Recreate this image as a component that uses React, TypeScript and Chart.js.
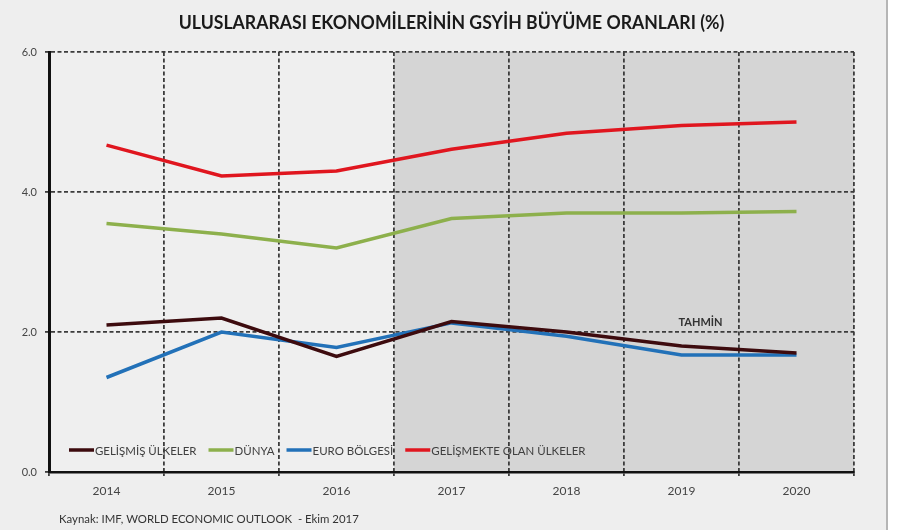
import React, { useEffect, useRef } from "react";
import { Chart, registerables } from "chart.js";

Chart.register(...registerables);

const years = ["2014", "2015", "2016", "2017", "2018", "2019", "2020"];
const gelismis = [2.1, 2.2, 1.65, 2.15, 2.0, 1.8, 1.7];
const dunya = [3.55, 3.4, 3.2, 3.62, 3.7, 3.7, 3.72];
const euro = [1.35, 2.0, 1.78, 2.13, 1.94, 1.67, 1.67];
const gelismekte = [4.67, 4.23, 4.3, 4.61, 4.84, 4.95, 5.0];
const seriesNames = ["GELİŞMİŞ ÜLKELER", "DÜNYA", "EURO BÖLGESİ", "GELİŞMEKTE OLAN ÜLKELER"];
const seriesColors = ["#3d0b0e", "#8db04c", "#2271b8", "#e0161f"];
const titleText = "ULUSLARARASI EKONOMİLERİNİN GSYİH BÜYÜME ORANLARI (%)";
const sourceText = "Kaynak: IMF, WORLD ECONOMIC OUTLOOK  - Ekim 2017";
const forecastLabel = "TAHMİN";
const forecastStart = 3;

const FONT = "Lato, 'Open Sans', sans-serif";

function narrowText(ctx: any, text: string, x: number, y: number, sx: number) {
  ctx.save();
  ctx.translate(x, y);
  ctx.scale(sx, 1);
  ctx.fillText(text, 0, 0);
  ctx.restore();
}

const decorPlugin = {
  id: "decor",
  beforeDraw(chart: any) {
    const { ctx, chartArea } = chart;
    const x = chart.scales.x;
    ctx.save();
    ctx.fillStyle = "#efefef";
    ctx.fillRect(chartArea.left, chartArea.top, chartArea.right - chartArea.left, chartArea.bottom - chartArea.top);
    const half = (x.getPixelForValue(1) - x.getPixelForValue(0)) / 2;
    const sx = x.getPixelForValue(forecastStart) - half;
    ctx.fillStyle = "#d5d5d5";
    ctx.fillRect(sx, chartArea.top, chartArea.right - sx, chartArea.bottom - chartArea.top);
    ctx.restore();
  },
  afterDraw(chart: any) {
    const { ctx, chartArea } = chart;
    const x = chart.scales.x;
    const y = chart.scales.y;
    ctx.save();
    // title
    ctx.fillStyle = "#1a1a1a";
    ctx.font = `bold 18px ${FONT}`;
    ctx.textBaseline = "middle";
    const tsc = 0.98;
    const tw = ctx.measureText(titleText).width * tsc;
    ctx.textAlign = "left";
    narrowText(ctx, titleText, (chartArea.left + chartArea.right) / 2 - tw / 2, 23, tsc);
    // forecast label
    ctx.fillStyle = "#333";
    ctx.font = `bold 11px ${FONT}`;
    ctx.textAlign = "center";
    ctx.fillText(forecastLabel, x.getPixelForValue(5) + 19, y.getPixelForValue(2) - 10);
    // source
    ctx.textAlign = "left";
    ctx.fillStyle = "#333";
    ctx.font = `11.4px ${FONT}`;
    ctx.fillText(sourceText, 59, 519);
    // legend
    ctx.font = `12px ${FONT}`;
    const sc = 0.955;
    let lx = chartArea.left + 20;
    const ly = 450;
    chart.data.datasets.forEach((ds: any) => {
      ctx.strokeStyle = ds.borderColor;
      ctx.lineWidth = 3.5;
      ctx.beginPath();
      ctx.moveTo(lx, ly);
      ctx.lineTo(lx + 25, ly);
      ctx.stroke();
      ctx.fillStyle = "#404040";
      narrowText(ctx, ds.label, lx + 26, ly + 1, sc);
      lx += 26 + ctx.measureText(ds.label).width * sc + 12;
    });
    ctx.restore();
  },
};

export default function App() {
  const ref = useRef<HTMLCanvasElement | null>(null);
  useEffect(() => {
    if (!ref.current) return;
    const dataArrays = [gelismis, dunya, euro, gelismekte];
    const chart = new Chart(ref.current, {
      type: "line",
      data: {
        labels: years,
        datasets: dataArrays.map((d, i) => ({
          label: seriesNames[i],
          data: d,
          borderColor: seriesColors[i],
          backgroundColor: seriesColors[i],
          borderWidth: 3.5,
          pointRadius: 0,
          tension: 0,
          fill: false,
        })),
      },
      options: {
        animation: false,
        responsive: false,
        maintainAspectRatio: false,
        layout: { padding: { top: 52, right: 32, left: 0, bottom: 0 } },
        plugins: {
          legend: { display: false },
          title: { display: false },
          tooltip: { enabled: false },
        },
        scales: {
          x: {
            offset: true,
            grid: {
              offset: true,
              color: "#3c3c3c",
              lineWidth: 1.8,
              tickLength: 4,
            },
            border: { display: true, color: "#111", width: 2.5, dash: [4, 2.5] },
            ticks: { color: "#444", font: { family: FONT, size: 12 }, padding: 8 },
            afterFit(scale: any) {
              scale.height = 58;
            },
          },
          y: {
            min: 0,
            max: 6,
            ticks: {
              stepSize: 2,
              color: "#444",
              font: { family: FONT, size: 11 },
              padding: 8,
              callback: (v: any) => Number(v).toFixed(1),
            },
            grid: { color: "#3c3c3c", lineWidth: 1.8, tickLength: 4 },
            border: { display: true, color: "#111", width: 3, dash: [4, 2.5] },
            afterFit(scale: any) {
              scale.width = 49;
            },
          },
        },
      },
      plugins: [decorPlugin],
    } as any);
    return () => chart.destroy();
  }, []);
  return (
    <div style={{ position: "absolute", left: 0, top: 0, width: 913, height: 530, background: "#fff" }}>
      <div style={{ width: 888, height: 530, background: "#eeeeee", borderRight: "2px solid #b5b5b5", boxSizing: "border-box" }}>
        <canvas ref={ref} width={886} height={530} style={{ display: "block" }} />
      </div>
    </div>
  );
}
